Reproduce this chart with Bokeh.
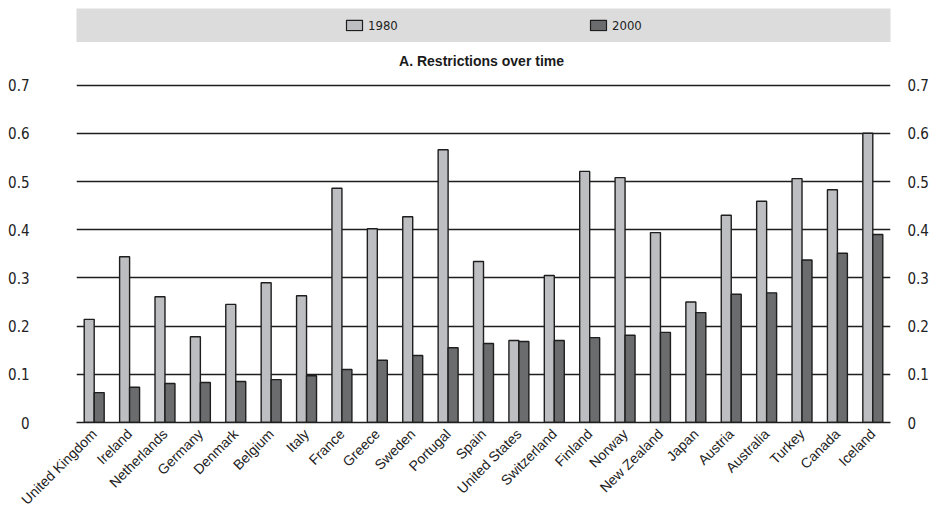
import math
from bokeh.plotting import figure
from bokeh.models import (ColumnDataSource, FactorRange, Range1d, LinearAxis,
                          FixedTicker, Legend, LegendItem, Label)
from bokeh.layouts import column
from bokeh.transform import dodge
from bokeh.embed import file_html
from bokeh.resources import INLINE

countries = ["United Kingdom", "Ireland", "Netherlands", "Germany", "Denmark",
             "Belgium", "Italy", "France", "Greece", "Sweden", "Portugal",
             "Spain", "United States", "Switzerland", "Finland", "Norway",
             "New Zealand", "Japan", "Austria", "Australia", "Turkey",
             "Canada", "Iceland"]
v1980 = [0.214, 0.344, 0.261, 0.178, 0.245, 0.290, 0.263, 0.486, 0.402,
         0.427, 0.566, 0.334, 0.170, 0.305, 0.521, 0.508, 0.394, 0.250,
         0.430, 0.459, 0.506, 0.483, 0.600]
v2000 = [0.062, 0.073, 0.081, 0.083, 0.085, 0.089, 0.097, 0.110, 0.129,
         0.139, 0.155, 0.164, 0.168, 0.170, 0.176, 0.181, 0.187, 0.228,
         0.266, 0.269, 0.337, 0.351, 0.390]
series_labels = ["1980", "2000"]
y_ticks = [0, 0.1, 0.2, 0.3, 0.4, 0.5, 0.6, 0.7]
y_tick_labels = ["0", "0.1", "0.2", "0.3", "0.4", "0.5", "0.6", "0.7"]
title_text = "A.  Restrictions over time"

C1980 = "#bdbec1"
C2000 = "#6b6c6e"
OUTLINE = "#1e1e1e"
SANS = "Liberation Sans"
COND = "DejaVu Sans Condensed"

W = 931
ML, MR = 76, 35

# ---- legend band ----
top = figure(width=W, height=42, x_range=Range1d(0, 1), y_range=Range1d(0, 1),
             x_axis_location=None, y_axis_location=None,
             toolbar_location=None, output_backend="svg",
             min_border_left=ML, min_border_right=MR, min_border_top=8,
             min_border_bottom=0)
top.background_fill_color = "#dcdcdc"
top.border_fill_color = "white"
top.outline_line_color = None
top.grid.visible = False
hidden = ColumnDataSource(dict(x=[0.5], b=[-3.0], t=[-2.0]))
d1 = top.vbar(x="x", bottom="b", top="t", width=0.1, source=hidden,
              fill_color=C1980, line_color=OUTLINE, line_width=1.2)
d2 = top.vbar(x="x", bottom="b", top="t", width=0.1, source=hidden,
              fill_color=C2000, line_color=OUTLINE, line_width=1.2)
leg = Legend(items=[LegendItem(label=series_labels[0], renderers=[d1]),
                    LegendItem(label=series_labels[1], renderers=[d2])],
             orientation="horizontal", location="center_left", margin=268,
             padding=0, spacing=20, label_width=200, label_standoff=4,
             glyph_width=20, glyph_height=13, border_line_color=None,
             background_fill_alpha=0, label_text_font=COND,
             label_text_font_size="13px", label_text_color="#222222")
top.add_layout(leg, "center")

# ---- main chart ----
src = ColumnDataSource(dict(country=countries, a=v1980, b=v2000))
p = figure(width=W, height=475, x_range=FactorRange(factors=countries),
           y_range=Range1d(0, 0.7884), toolbar_location=None, output_backend="svg",
           min_border_left=ML, min_border_right=MR, min_border_top=0,
           min_border_bottom=95)
p.outline_line_color = None
p.background_fill_color = "white"

p.vbar(x=dodge("country", -0.141, range=p.x_range), top="a", width=0.282,
       source=src, fill_color=C1980, line_color=OUTLINE, line_width=1.4)
p.vbar(x=dodge("country", 0.141, range=p.x_range), top="b", width=0.282,
       source=src, fill_color=C2000, line_color=OUTLINE, line_width=1.4)

p.add_layout(Label(x=len(countries) / 2, y=0.751, text=title_text,
                   text_align="center", text_baseline="middle",
                   text_font=SANS, text_font_style="bold",
                   text_font_size="14px", text_color="#1a1a1a"))

p.xgrid.visible = False
p.ygrid.ticker = FixedTicker(ticks=y_ticks)
p.ygrid.grid_line_color = "#1e1e1e"
p.ygrid.grid_line_width = 1.3

overrides = {t: l for t, l in zip(y_ticks, y_tick_labels)}
p.yaxis.ticker = FixedTicker(ticks=y_ticks)
p.yaxis.major_label_overrides = overrides
p.yaxis.axis_line_color = None
p.yaxis.major_tick_line_color = None
p.yaxis.minor_tick_line_color = None
p.yaxis.major_label_standoff = 41
p.yaxis.major_label_text_font = COND
p.yaxis.major_label_text_font_size = "15px"
p.yaxis.major_label_text_color = "#222222"

ra = LinearAxis(ticker=FixedTicker(ticks=y_ticks), major_label_overrides=overrides,
                axis_line_color=None, major_tick_line_color=None,
                minor_tick_line_color=None, major_label_standoff=11,
                major_label_text_font=COND,
                major_label_text_font_size="15px",
                major_label_text_color="#222222")
p.add_layout(ra, "right")

p.xaxis.major_label_orientation = math.pi / 4
p.xaxis.major_tick_line_color = None
p.xaxis.axis_line_color = "#1e1e1e"
p.xaxis.axis_line_width = 1.5
p.xaxis.major_label_text_font = SANS
p.xaxis.major_label_text_font_size = "14px"
p.xaxis.major_label_text_color = "#222222"
p.xaxis.major_label_standoff = 3

layout = column(top, p, spacing=0)
open("out.html", "w").write(file_html(layout, INLINE))
